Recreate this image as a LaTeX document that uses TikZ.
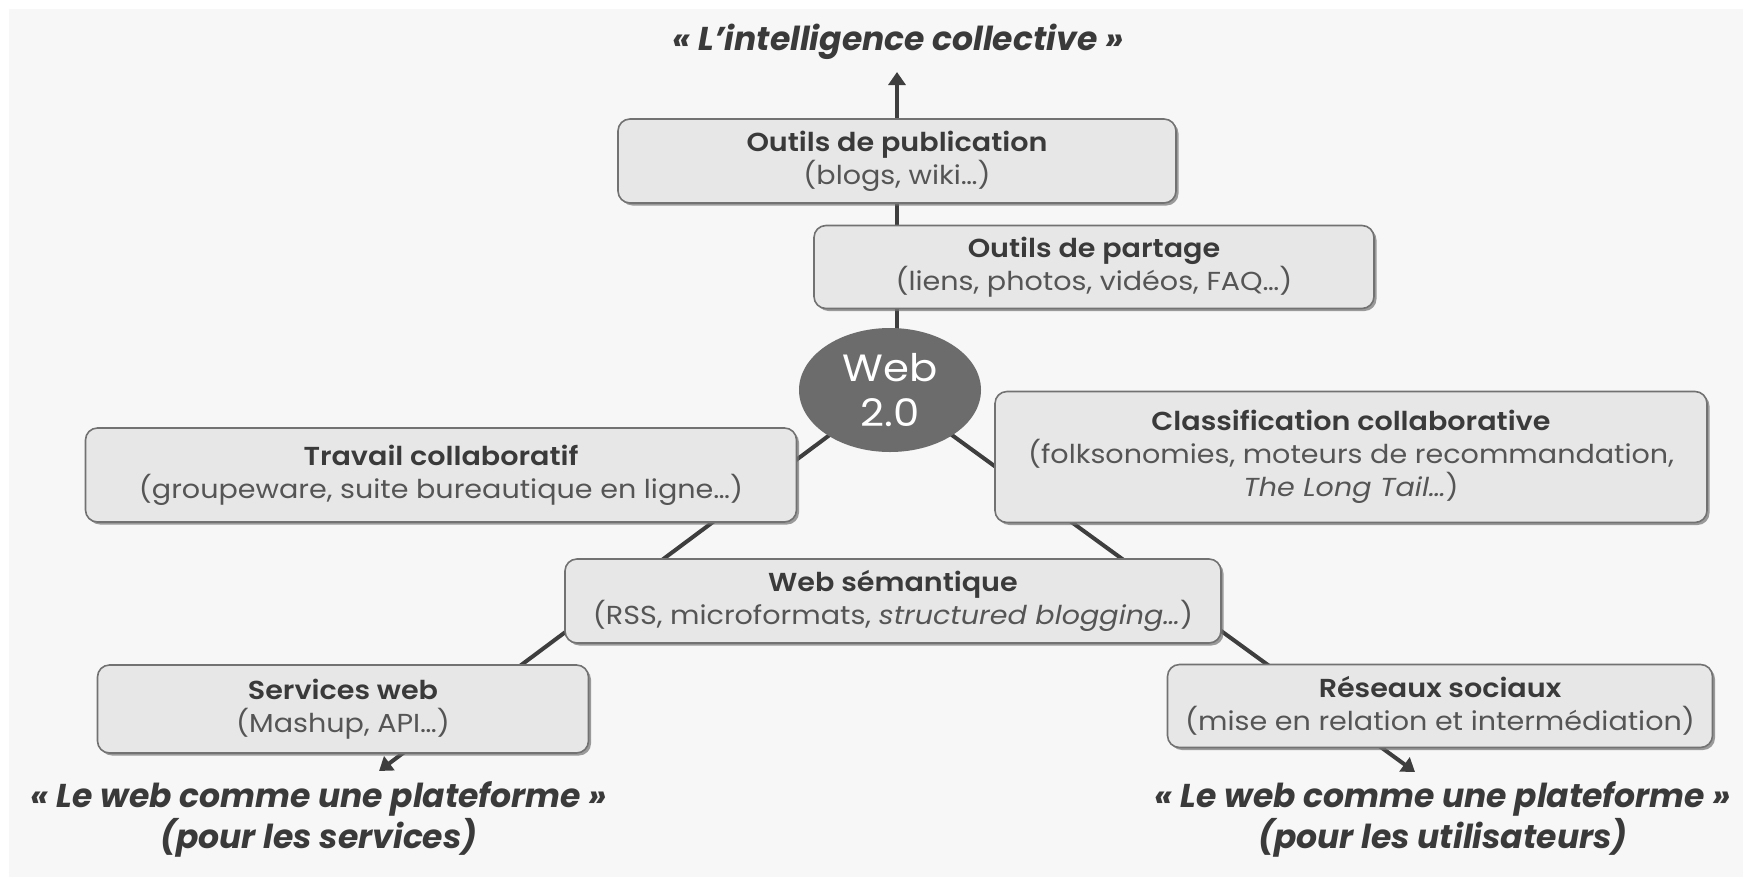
\documentclass[tikz,border=0pt]{standalone}
\usepackage{fontspec}
\setmainfont{Poppins}
\newfontfamily\boxfont{Poppins}[FakeStretch=1.1, BoldFont={Poppins SemiBold}]
\usetikzlibrary{arrows.meta,shapes.geometric,shadows}
\definecolor{bgc}{HTML}{F7F7F7}
\definecolor{boxfill}{HTML}{E7E7E7}
\definecolor{boxline}{HTML}{727272}
\definecolor{linec}{HTML}{3E3E3E}
\definecolor{headc}{HTML}{3A3A3A}
\definecolor{subc}{HTML}{555555}
\definecolor{webfill}{HTML}{6C6C6C}
\pgfdeclarelayer{bgfill}
\pgfdeclarelayer{edges}
\pgfsetlayers{bgfill,edges,main}
\tikzset{
  boxnode/.style={draw=boxline, line width=1.6pt, fill=boxfill, rounded corners=12pt,
    align=center, inner sep=0pt,
    drop shadow={shadow xshift=2.5pt, shadow yshift=-2.5pt, fill=black!55, opacity=0.7},
    font=\boxfont\fontsize{26}{33}\selectfont, text=subc},
  quote/.style={align=center, text=headc, font=\fontsize{33}{41}\selectfont\bfseries\itshape},
  conn/.style={draw=linec, line width=4pt},
  arr/.style={conn, -{Triangle[width=17pt,length=13pt]}},
}
\newcommand{\hd}[1]{{\bfseries\color{headc}#1}}
\begin{document}
\begin{tikzpicture}[x=1pt,y=-1pt]
\useasboundingbox (0,0) rectangle (1743,879);
\begin{pgfonlayer}{bgfill}
\fill[bgc] (9,9) rectangle (1743,877);
\end{pgfonlayer}

\node[quote] (title) at (898,42) {« L’intelligence collective »};
\coordinate (toptip) at (897,72);

\node[boxnode, minimum width=558pt, minimum height=84pt] (pub) at (897,161)
  {\hd{Outils de publication}\\(blogs, wiki…)};
\node[boxnode, minimum width=560pt, minimum height=83pt] (part) at (1094,267)
  {\hd{Outils de partage}\\(liens, photos, vidéos, FAQ…)};
\node[ellipse, fill=webfill, minimum width=182pt, minimum height=124pt, inner sep=0pt,
  align=center, text=white, font=\boxfont\fontsize{38}{45}\selectfont] (web) at (890,390)
  {Web\\2.0};
\node[boxnode, minimum width=711pt, minimum height=94pt] (trav) at (441,475)
  {\hd{Travail collaboratif}\\(groupeware, suite bureautique en ligne…)};
\node[boxnode, minimum width=712pt, minimum height=131pt] (clas) at (1351,457)
  {\hd{Classification collaborative}\\(folksonomies, moteurs de recommandation,\\\textit{The Long Tail…})};
\node[boxnode, minimum width=656pt, minimum height=84pt] (sem) at (893,601)
  {\hd{Web sémantique}\\(RSS, microformats, \textit{structured blogging…})};
\node[boxnode, minimum width=491pt, minimum height=88pt] (serv) at (343,709)
  {\hd{Services web}\\(Mashup, API…)};
\node[boxnode, minimum width=545pt, minimum height=83pt] (res) at (1440,706)
  {\hd{Réseaux sociaux}\\(mise en relation et intermédiation)};

\coordinate (ltip) at (379,771);
\coordinate (rtip) at (1415,772);

\node[quote] (lq) at (319,819) {« Le web comme une plateforme »\\(pour les services)};
\node[quote] (rq) at (1443,819) {« Le web comme une plateforme »\\(pour les utilisateurs)};

\begin{pgfonlayer}{edges}
\draw[arr] (toptip |- web.center) -- (toptip);
\draw[arr] (web.center) -- (ltip);
\draw[arr] (web.center) -- (rtip);
\end{pgfonlayer}
\end{tikzpicture}
\end{document}
